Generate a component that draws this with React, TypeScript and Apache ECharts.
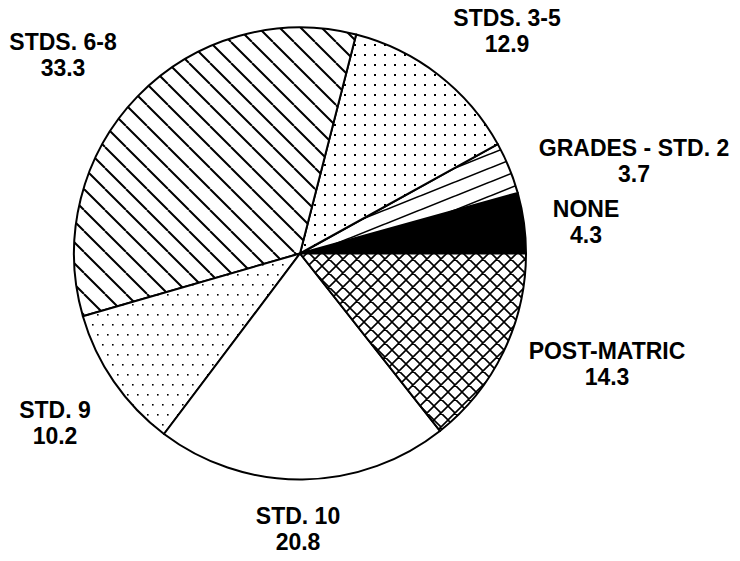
import React, { useEffect, useRef } from 'react';
import * as echarts from 'echarts';

const categories = ['NONE', 'GRADES - STD. 2', 'STDS. 3-5', 'STDS. 6-8', 'STD. 9', 'STD. 10', 'POST-MATRIC'];
const values = [4.3, 3.7, 12.9, 33.3, 10.2, 20.8, 14.3];
const fillKinds = ['solid', 'shallowLines', 'dots', 'diag', 'staggerDots', 'white', 'cross'];
const labelCenters: number[][] = [
  [586, 222],
  [634, 161],
  [507, 30.5],
  [63, 55],
  [55, 423],
  [298, 529],
  [607, 364],
];

function makeTile(w: number, h: number, draw: (ctx: CanvasRenderingContext2D, w: number, h: number) => void) {
  const c = document.createElement('canvas');
  c.width = w;
  c.height = h;
  const ctx = c.getContext('2d')!;
  ctx.fillStyle = '#fff';
  ctx.fillRect(0, 0, w, h);
  ctx.strokeStyle = '#000';
  ctx.fillStyle = '#000';
  draw(ctx, w, h);
  return c;
}

function fillFor(kind: string): any {
  if (kind === 'solid') return '#000';
  if (kind === 'white') return '#fff';
  let canvas: HTMLCanvasElement;
  if (kind === 'diag') {
    const s = 21;
    canvas = makeTile(s, s, (ctx) => {
      ctx.lineWidth = 2;
      ctx.beginPath();
      for (let k = -1; k <= 1; k++) {
        ctx.moveTo(k * s, 0);
        ctx.lineTo(k * s + s, s);
      }
      ctx.stroke();
    });
  } else if (kind === 'cross') {
    const s = 14;
    canvas = makeTile(s, s, (ctx) => {
      ctx.lineWidth = 1.6;
      ctx.beginPath();
      for (let k = -1; k <= 1; k++) {
        ctx.moveTo(k * s, 0);
        ctx.lineTo(k * s + s, s);
        ctx.moveTo(k * s, s);
        ctx.lineTo(k * s + s, 0);
      }
      ctx.stroke();
    });
  } else if (kind === 'shallowLines') {
    const w = 35, h = 14;
    canvas = makeTile(w, h, (ctx) => {
      ctx.lineWidth = 1.6;
      ctx.beginPath();
      for (let k = -1; k <= 1; k++) {
        ctx.moveTo(-1, h + k * h + 0.4);
        ctx.lineTo(w + 1, k * h - 0.4);
      }
      ctx.stroke();
    });
  } else if (kind === 'dots') {
    canvas = makeTile(10, 10, (ctx) => {
      ctx.fillRect(4, 4, 2, 2);
    });
  } else {
    canvas = makeTile(10, 20, (ctx) => {
      ctx.fillRect(2, 4, 1.6, 1.6);
      ctx.fillRect(7, 14, 1.6, 1.6);
    });
  }
  return { image: canvas, repeat: 'repeat' };
}

export default function App() {
  const ref = useRef<HTMLDivElement>(null);
  useEffect(() => {
    if (!ref.current) return;
    const chart = echarts.init(ref.current, undefined, { renderer: 'svg' });
    const data = categories.map((name, i) => ({
      name,
      value: values[i],
      itemStyle: { color: fillFor(fillKinds[i]) },
    }));
    chart.setOption({
      animation: false,
      backgroundColor: '#fff',
      series: [
        {
          type: 'pie',
          center: [300, 253.5],
          radius: 226,
          startAngle: 0,
          clockwise: false,
          silent: true,
          avoidLabelOverlap: false,
          itemStyle: { borderColor: '#000', borderWidth: 2 },
          label: {
            show: true,
            position: 'outside',
            formatter: '{b}\n{c}',
            color: '#000',
            fontFamily: '"Liberation Sans", Arial, sans-serif',
            fontWeight: 'bold',
            fontSize: 23,
            lineHeight: 26,
            align: 'center',
          },
          labelLine: { show: false },
          labelLayout: (params: any) => {
            const p = labelCenters[params.dataIndex];
            return { x: p[0], y: p[1], align: 'center', verticalAlign: 'middle' };
          },
          emphasis: { disabled: true },
          data,
        },
      ],
    });
    return () => chart.dispose();
  }, []);
  return (
    <div
      ref={ref}
      style={{ position: 'absolute', left: 0, top: 0, width: 740, height: 561, background: '#fff' }}
    />
  );
}
